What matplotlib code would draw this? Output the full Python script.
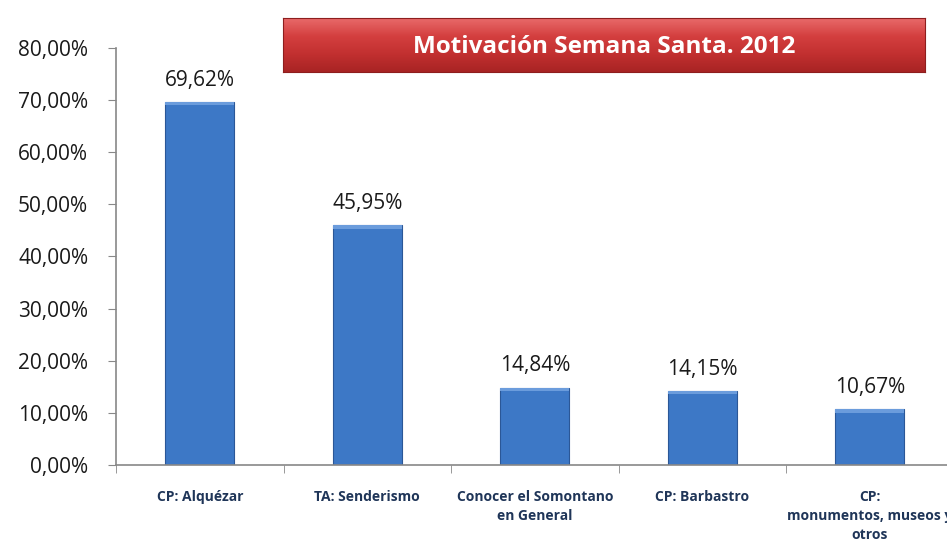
import numpy as np
import matplotlib.pyplot as plt
from matplotlib.ticker import FuncFormatter
from matplotlib.colors import LinearSegmentedColormap

categories = ['CP: Alquézar', 'TA: Senderismo', 'Conocer el Somontano\nen General',
              'CP: Barbastro', 'CP:\nmonumentos, museos y\notros']
values = [69.62, 45.95, 14.84, 14.15, 10.67]
title = 'Motivación Semana Santa. 2012'

plt.rcParams['font.family'] = ['Open Sans', 'DejaVu Sans']

fig = plt.figure(figsize=(9.47, 5.40), dpi=100)
ax = fig.add_axes([116 / 947, 75 / 540, (953.5 - 116) / 947, (465 - 48) / 540])

x = np.arange(len(values))
bars = ax.bar(x, values, width=0.41, color='#3D78C6', edgecolor='#2B5797', linewidth=0.8, zorder=2)
# light bevel on top of each bar
for b in bars:
    ax.bar(b.get_x() + b.get_width() / 2, 0.6, bottom=b.get_height() - 0.6, width=b.get_width(),
           color='#6B9CDC', linewidth=0, zorder=3)

for xi, v in zip(x, values):
    ax.text(xi, v + 2.2, f'{v:.2f}%'.replace('.', ','), ha='center', va='bottom',
            fontsize=15, color='#1a1a1a')

ax.set_xlim(-0.5, len(values) - 0.5)
ax.set_ylim(0, 80)
ax.set_yticks(np.arange(0, 81, 10))
ax.yaxis.set_major_formatter(FuncFormatter(lambda v, p: f'{v:.2f}%'.replace('.', ',')))
ax.tick_params(axis='y', labelsize=15, length=6, color='#888888', labelcolor='#1a1a1a', pad=14)

ax.set_xticks(x)
ax.set_xticklabels(categories, fontsize=10, fontweight='bold', color='#1F3558', linespacing=1.45)
ax.set_xticks(np.arange(-0.5, len(values)), minor=True)
ax.tick_params(axis='x', which='major', length=0, pad=18)
ax.tick_params(axis='x', which='minor', length=6, color='#888888', direction='out')

for s in ['top', 'right']:
    ax.spines[s].set_visible(False)
for s in ['left', 'bottom']:
    ax.spines[s].set_color('#888888')
    ax.spines[s].set_linewidth(1.2)

# title box with red gradient
tax = fig.add_axes([283 / 947, 1 - 72 / 540, (925 - 283) / 947, (72 - 18) / 540])
grad = np.linspace(0, 1, 100).reshape(-1, 1)
cmap = LinearSegmentedColormap.from_list('red', ['#E86A6A', '#D43F3F', '#C23030', '#A82424'])
tax.imshow(grad, aspect='auto', cmap=cmap, extent=[0, 1, 0, 1])
tax.set_xlim(0, 1)
tax.set_ylim(0, 1)
tax.set_xticks([])
tax.set_yticks([])
for s in tax.spines.values():
    s.set_color('#8E1E1E')
    s.set_linewidth(0.8)
tax.text(0.5, 0.47, title, ha='center', va='center', fontsize=17.5, fontweight='bold', color='white')

fig.savefig('out.png', dpi=100)
